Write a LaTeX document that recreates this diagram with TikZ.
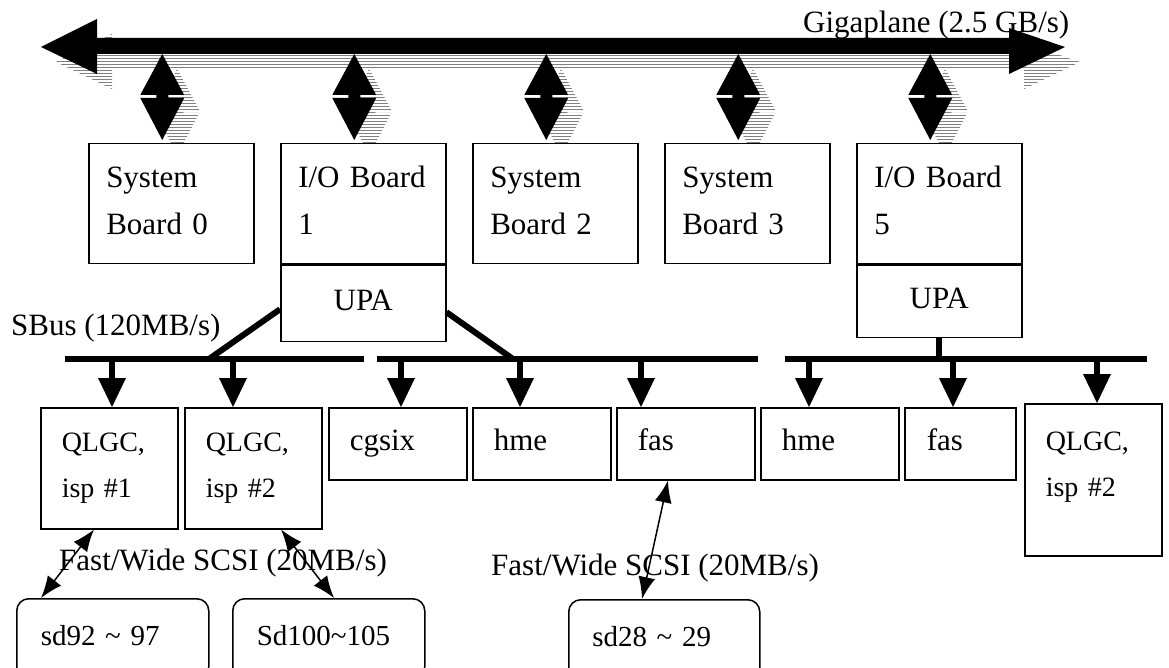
\documentclass[tikz,border=0pt]{standalone}
\usepackage{fontspec}
\setmainfont{Liberation Serif}
\usetikzlibrary{positioning,arrows.meta,patterns,backgrounds}

\begin{document}
\begin{tikzpicture}[x=1pt,y=-1pt,
        font=\fontsize{31}{47}\selectfont,
        board/.style={draw, fill=white, line width=1.5pt, anchor=north west, inner sep=0pt,
            minimum width=165pt, minimum height=120pt, text width=130pt, align=left,
            text height=21pt, text depth=54pt},
        unit/.style={draw, fill=white, line width=1.5pt, inner sep=0pt, minimum width=165pt,
            text height=21pt, text depth=7pt},
        card/.style={draw, fill=white, line width=1.5pt, anchor=north west, inner sep=0pt,
            minimum width=138pt, minimum height=72pt, text width=96pt, align=left,
            text height=21pt, text depth=7pt},
        qlgc/.style={card, minimum width=137pt, minimum height=121pt, text width=95pt,
            font=\fontsize{28}{46}\selectfont, text height=19pt, text depth=52pt},
        disk/.style={draw, rounded corners=12pt, line width=1.5pt, anchor=north west, inner sep=0pt,
            minimum width=192pt, minimum height=80pt, text width=144pt, align=left,
            font=\fontsize{29}{35}\selectfont, text height=20pt, text depth=7pt},
        busname/.style={anchor=base west, inner sep=0pt},
        hatched/.style={pattern=horizontal lines, pattern color=gray},
        sbus/.style={line width=6pt},
        drop/.style={line width=6pt, -{Triangle[length=29pt,width=28pt,line width=0pt]}},
        scsi/.style={line width=1.5pt, {Latex[length=22pt,width=17pt]}-{Latex[length=22pt,width=17pt]}}]
    \useasboundingbox (0,0) rectangle (1169,668);

    \node (sysA) [board] at (88,143) {System\\Board 0};
    \node (ioA) [board] at (280,143) {I/O Board\\1};
    \node (upaA) [unit, below=0pt of ioA, minimum height=76pt] {UPA};
    \node (sysC) [board] at (472,143) {System\\Board 2};
    \node (sysD) [board] at (664,143) {System\\Board 3};
    \node (ioB) [board] at (856,143) {I/O Board\\5};
    \node (upaB) [unit, below=0pt of ioB, minimum height=72pt] {UPA};

    \node (qlgcA) [qlgc] at (40,407) {QLGC,\\isp \#1};
    \node (qlgcB) [qlgc] at (184,407) {QLGC,\\isp \#2};
    \node (cgsix) [card] at (328,407) {cgsix};
    \node (hmeA) [card] at (472,407) {hme};
    \node (fasA) [card] at (616,407) {fas};
    \node (hmeB) [card] at (760,407) {hme};
    \node (fasB) [card, minimum width=111pt, text width=67pt] at (904,407) {fas};
    \node (qlgcC) [qlgc, minimum height=152pt, text depth=77pt] at (1024,403) {QLGC,\\isp \#2};

    \node (sdA) [disk] at (16,598) {sd92 \textasciitilde{} 97};
    \node (sdB) [disk] at (232,598) {Sd100\textasciitilde105};
    \node (sdC) [disk, minimum width=191pt] at (568,599) {sd28 \textasciitilde{} 29};

    \node (sbusname) [busname] at (11,335) {SBus (120MB/s)};
    \node (scsinameA) [busname] at (59,570) {Fast/Wide SCSI (20MB/s)};
    \node (scsinameB) [busname] at (491,575) {Fast/Wide SCSI (20MB/s)};

    % gigaplane with its hatched shadow, drawn under the boards
    \begin{scope}[on background layer]
        \node (giganame) [busname] at (803,33) {Gigaplane (2.5 GB/s)};
        \foreach \style/\dx in {hatched/15, black/0} {
            \fill[\style, shift={(\dx,\dx)}] (41,47) -- (97,19) -- (97,38) -- (1009,38) -- (1009,28)
                -- (1065,47) -- (1009,74) -- (1009,54) -- (97,54) -- (97,74) -- cycle;
            \foreach \b in {sysA,ioA,sysC,sysD,ioB}
                \fill[\style] ([shift={(-9+\dx,-89+\dx)}]\b.north) -- ++(22,41) -- ++(-16,0) -- ++(0,3)
                    -- ++(16,0) -- ++(-22,42) -- ++(-22,-42) -- ++(16,0) -- ++(0,-3) -- ++(-16,0) -- cycle;
        }
    \end{scope}

    \coordinate (sbusAw) at (65,359);
    \coordinate (sbusAe) at (364,359);
    \coordinate (sbusBw) at (377,359);
    \coordinate (sbusBe) at (758,359);
    \coordinate (sbusCw) at (785,359);
    \coordinate (sbusCe) at (1147,359);
    \coordinate (tapA) at (209,359);
    \coordinate (tapB) at (513,359);

    \draw[sbus] (sbusAw) -- (sbusAe);
    \draw[sbus] (sbusBw) -- (sbusBe);
    \draw[sbus] (sbusCw) -- (sbusCe);
    \draw[sbus] ([yshift=-6pt]upaA.west) -- (tapA);
    \draw[sbus] ([yshift=-9pt]upaA.east) -- (tapB);
    \draw[sbus] (upaB.south) -- (upaB.south |- sbusCw);

    \draw[drop] ([shift={(72,-48)}]qlgcA.north west) -- ([xshift=72pt]qlgcA.north west);
    \draw[drop] ([shift={(49,-48)}]qlgcB.north west) -- ([xshift=49pt]qlgcB.north west);
    \draw[drop] ([shift={(73,-48)}]cgsix.north west) -- ([xshift=73pt]cgsix.north west);
    \draw[drop] ([shift={(48,-48)}]hmeA.north west) -- ([xshift=48pt]hmeA.north west);
    \draw[drop] ([shift={(25,-48)}]fasA.north west) -- ([xshift=25pt]fasA.north west);
    \draw[drop] ([shift={(49,-48)}]hmeB.north west) -- ([xshift=49pt]hmeB.north west);
    \draw[drop] ([shift={(49,-48)}]fasB.north west) -- ([xshift=49pt]fasB.north west);
    \draw[drop] ([shift={(73,-44)}]qlgcC.north west) -- ([xshift=73pt]qlgcC.north west);

    \draw[scsi] ([xshift=54pt]qlgcA.south west) -- ([xshift=25pt]sdA.north west);
    \draw[scsi] ([xshift=97pt]qlgcB.south west) -- ([xshift=102pt]sdB.north west);
    \draw[scsi] ([xshift=52pt]fasA.south west) -- ([xshift=74pt]sdC.north west);
\end{tikzpicture}
\end{document}
